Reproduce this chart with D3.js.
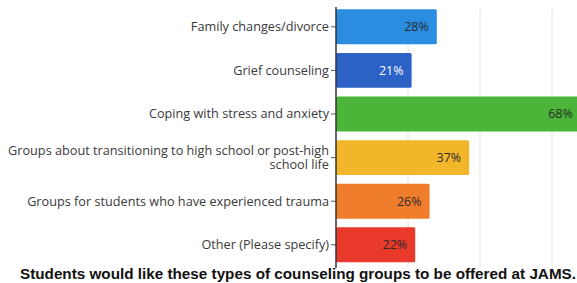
<!DOCTYPE html>
<html>
<head>
<meta charset="utf-8">
<script src="https://cdnjs.cloudflare.com/ajax/libs/d3/7.8.5/d3.min.js"></script>
<style>
body { margin: 0; background: #fff; }
svg { display: block; }
</style>
</head>
<body>
<div id="viz"></div>
<script>
(function() {

var categories = [
    ["Family changes/divorce"],
    ["Grief counseling"],
    ["Coping with stress and anxiety"],
    ["Groups about transitioning to high school or post-high", "school life"],
    ["Groups for students who have experienced trauma"],
    ["Other (Please specify)"]
];
var values = [28, 21, 68, 37, 26, 22];
var barColors = ["#2b8de0", "#2c61c6", "#4bb53a", "#f2b62a", "#f07d2b", "#e8392b"];
var labelColors = ["#2a2a2a", "#ffffff", "#2a2a2a", "#2a2a2a", "#2a2a2a", "#2a2a2a"];
var gridTicks = [20, 40, 60, 80];
var caption = "Students would like these types of counseling groups to be offered at JAMS.";

var W = 577, H = 283;
var idx = d3.range(values.length);

var svg = d3.select("#viz")
    .append("svg")
    .attr("width", W)
    .attr("height", H);

var x = d3.scaleLinear().domain([0, 100]).range([336, 696]);
var y = d3.scaleBand().domain(idx).range([5, 266.6]).paddingInner(0.2).paddingOuter(0.1);

// gridlines
svg.selectAll("line.grid")
    .data(gridTicks)
    .enter().append("line")
    .attr("class", "grid")
    .attr("x1", function(d){return x(d);})
    .attr("x2", function(d){return x(d);})
    .attr("y1", 9)
    .attr("y2", 266)
    .style("stroke", "#e2dede")
    .style("stroke-width", 1);

// bars
svg.selectAll("rect.bar")
    .data(idx)
    .enter().append("rect")
    .attr("class", "bar")
    .attr("x", x(0))
    .attr("y", function(i){return y(i);})
    .attr("width", function(i){return x(values[i]) - x(0);})
    .attr("height", y.bandwidth())
    .attr("rx", 1.5)
    .style("fill", function(i){return barColors[i];});

// value labels
svg.selectAll("text.val")
    .data(idx)
    .enter().append("text")
    .attr("class", "val")
    .attr("x", function(i){return x(values[i]) - 8;})
    .attr("y", function(i){return y(i) + y.bandwidth() / 2;})
    .attr("dy", "0.35em")
    .attr("text-anchor", "end")
    .style("font-family", "'Open Sans', sans-serif")
    .style("font-size", "12.5px")
    .style("fill", function(i){return labelColors[i];})
    .text(function(i){return values[i] + "%";});

// y axis
var yAxis = d3.axisLeft(y).tickSize(5).tickFormat("");
var ag = svg.append("g")
    .attr("transform", "translate(" + x(0) + ",0)")
    .call(yAxis);
ag.select(".domain").remove();
ag.selectAll(".tick line").style("stroke", "#555");
svg.append("line")
    .attr("x1", x(0)).attr("x2", x(0))
    .attr("y1", 7).attr("y2", 268)
    .style("stroke", "#333")
    .style("stroke-width", 1.5);

// category labels (one text per line)
idx.forEach(function(i) {
    var lines = categories[i];
    var cy = y(i) + y.bandwidth() / 2;
    lines.forEach(function(s, k) {
        svg.append("text")
            .attr("class", "cat")
            .attr("text-anchor", "end")
            .attr("x", x(0) - 7)
            .attr("y", cy + (k - (lines.length - 1) / 2) * 14.5)
            .attr("dy", "0.35em")
            .style("font-family", "'Open Sans', sans-serif")
            .style("font-size", "12.7px")
            .style("fill", "#3a3a3a")
            .text(s);
    });
});

// caption
svg.append("text")
    .attr("x", 20)
    .attr("y", 279)
    .attr("textLength", 556)
    .attr("lengthAdjust", "spacingAndGlyphs")
    .style("font-family", "'Liberation Sans', Arial, sans-serif")
    .style("font-weight", "bold")
    .style("font-size", "15px")
    .style("fill", "#111")
    .text(caption);

})();
</script>
</body>
</html>
